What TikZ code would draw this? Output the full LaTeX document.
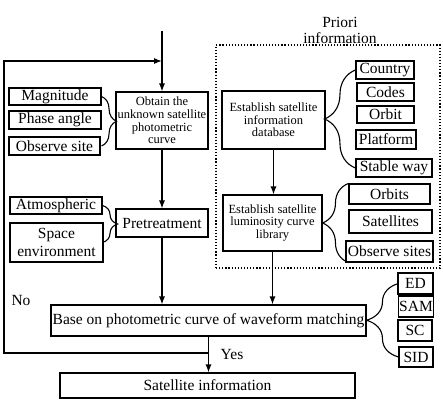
\documentclass[tikz,border=0pt]{standalone}
\usepackage{fontspec}
\setmainfont{Liberation Serif}
\usetikzlibrary{arrows.meta,decorations.pathreplacing,positioning}

\begin{document}
\begin{tikzpicture}[x=1pt,y=-1pt,
    sz/.style 2 args={minimum width=#1pt,minimum height=#2pt},
    box/.style={draw,line width=1.1pt,inner sep=0.5pt,align=center,
      font=\fontsize{15.5}{18}\selectfont},
    proc/.style={box,font=\fontsize{12.5}{12.7}\selectfont},
    lbl/.style={inner sep=0pt,align=center,font=\fontsize{15.5}{16}\selectfont},
    dotbox/.style={draw,line width=1.3pt,dash pattern=on 1.2pt off 1.9pt},
    arr/.style={line width=1.1pt,-{Latex[length=8pt,width=6pt]}},
    brc/.style={line width=1.1pt,decorate,decoration={brace,amplitude=#1}},
  ]
  \useasboundingbox (0,0) rectangle (443,402);

  % priori information
  \node[dotbox,sz={224}{223}] (prior) at (328,156.5) {};
  \node[lbl] (prlabel) at (340,30) {Priori\\information};

  % main flow
  \path
  (162,120.5) node[proc,sz={92}{57}] (obtain) {Obtain the\\unknown satellite\\photometric\\curve}
  (162,223) node[box,sz={92}{28}] (pre) {Pretreatment}
  (208.5,320.5) node[box,sz={315}{31}] (match) {Base on photometric curve of waveform matching}
  (207.5,385.5) node[box,sz={295}{25}] (info) {Satellite information}
  ;

  % left inputs
  \path
  (55,96.5) node[box,sz={92}{17}] (mag) {Magnitude}
  (55,120) node[box,sz={92}{18}] (phase) {Phase angle}
  (54.5,146) node[box,sz={91}{18}] (obs) {Observe site}
  (56,205.5) node[box,sz={92}{17}] (atm) {Atmospheric}
  (56.5,242.5) node[box,sz={93}{39}] (space) {Space\\environment}
  ;
  \draw[brc=15pt] (mag.east) -- (mag.east |- obs.east);
  \draw[brc=15pt] (atm.east) -- (atm.east |- space.east);

  % database and library
  \path
  (273.5,120) node[proc,sz={103}{58}] (db) {Establish satellite\\information\\database}
  (272.5,223) node[proc,sz={99}{56}] (lib) {Establish satellite\\luminosity curve\\library}
  ;

  \path
  (385,70) node[box,sz={58}{18}] (country) {Country}
  (385.5,92) node[box,sz={57}{18}] (codes) {Codes}
  (385.5,114.5) node[box,sz={57}{17}] (orbit) {Orbit}
  (386,139.5) node[box,sz={60}{19}] (platform) {Platform}
  (394,168) node[box,sz={76}{18}] (stable) {Stable way}
  ;
  \draw[brc=31pt] (stable.west) -- (stable.west |- country.west);

  \path
  (389.5,194) node[box,sz={81}{20}] (orbits) {Orbits}
  (390.5,221.5) node[box,sz={83}{23}] (sats) {Satellites}
  (389.5,251.5) node[box,sz={87}{21}] (osites) {Observe sites}
  ;
  \draw[brc=26pt] (orbits.west |- osites.south) -- (orbits.north west);

  % matching methods
  \path
  (415.5,283.5) node[box,sz={35}{21}] (ed) {ED}
  (416,306.5) node[box,sz={34}{21}] (sam) {SAM}
  (415,330.5) node[box,sz={34}{21}] (sc) {SC}
  (416,357) node[box,sz={34}{20}] (sid) {SID}
  ;
  \draw[brc=32pt] (sid.west) -- (sid.west |- ed.west);

  % connectors
  \coordinate (in) at (162,31);
  \coordinate (turn) at (4,353);
  \coordinate (back) at (4,61);
  \draw[arr] (in) -- (obtain);
  \draw[arr] (obtain) -- (pre);
  \draw[arr] (pre.south) -- (pre.south |- match.north);
  \draw[arr] (db.south) -- (db.south |- lib.north);
  \draw[arr] (lib.south) -- (lib.south |- match.north);
  \draw[arr] (match.south) -- (match.south |- info.north);
  \draw[arr] (match.south |- turn) -- (turn) -- (back) -- (in |- back);

  \node[lbl] (no) at (21,300) {No};
  \node[lbl] (yes) at (232,354) {Yes};
\end{tikzpicture}
\end{document}
